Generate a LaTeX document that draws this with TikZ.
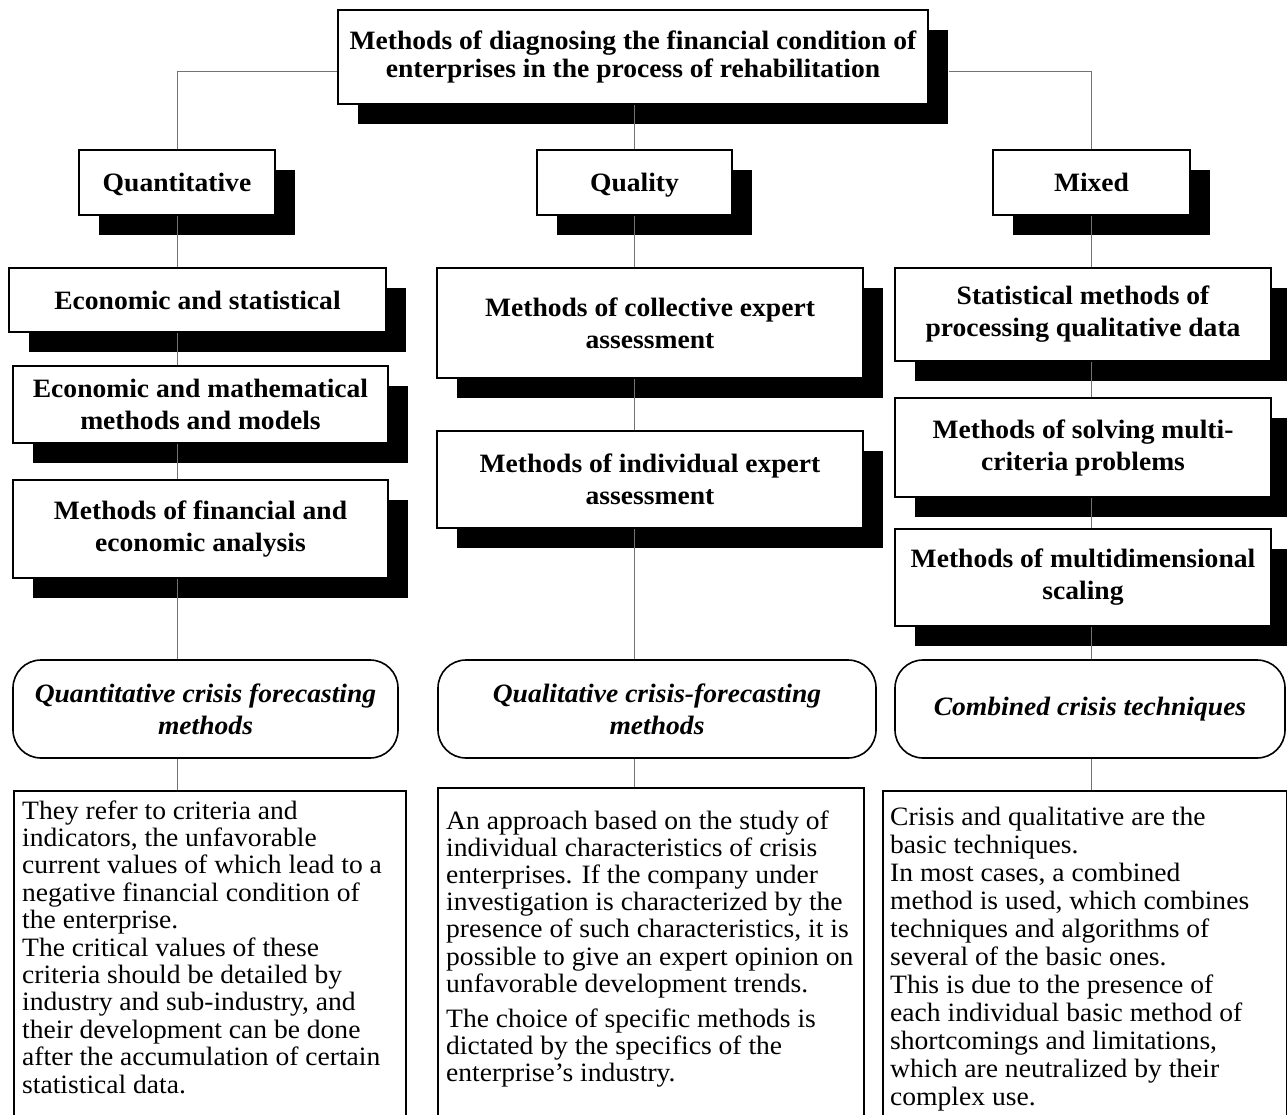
\documentclass[tikz,border=0pt]{standalone}
\usepackage{fontspec}
\setmainfont{Liberation Serif}[FakeStretch=1.04]
\usetikzlibrary{shadows,calc}
\begin{document}
\begin{tikzpicture}[x=1pt,y=-1pt,
  hb/.style={draw, line width=1.6pt, fill=white, align=center, inner sep=0pt,
     font=\bfseries\fontsize{26.5}{32}\selectfont,
     drop shadow={shadow xshift=20pt, shadow yshift=-20pt, fill=black, opacity=1}},
  ov/.style={draw, line width=1.6pt, fill=white, rounded corners=28pt, align=center,
     inner sep=0pt, font=\bfseries\itshape\fontsize{26.5}{32}\selectfont},
  tb/.style={draw, line width=1.6pt, fill=white, inner sep=0pt},
  bt/.style={anchor=base west, inner sep=0pt, font=\fontsize{26.5}{27}\selectfont},
  con/.style={draw=black!55, line width=1pt}]
\useasboundingbox[fill=white] (0,0) rectangle (1287,1115);

% top
\node[hb, minimum width=590pt, minimum height=94pt, font=\bfseries\fontsize{26.5}{28.5}\selectfont]
  (top) at (633,57) {Methods of diagnosing the financial condition of\\enterprises in the process of rehabilitation};

% level 2
\node[hb, minimum width=196pt, minimum height=65pt, text height=21pt, text depth=3pt] (quant) at (177,182.5) {Quantitative};
\node[hb, minimum width=195pt, minimum height=65pt, text height=21pt, text depth=3pt] (qual) at (634.5,182.5) {Quality};
\node[hb, minimum width=197pt, minimum height=65pt, text height=21pt, text depth=3pt] (mixed) at (1091.5,182.5) {Mixed};

% left column
\node[hb, minimum width=377pt, minimum height=64pt] (es) at (197.5,300) {Economic and statistical};
\node[hb, minimum width=375pt, minimum height=77pt] (em) at (200.5,404.5) {Economic and mathematical\\methods and models};
\node[hb, minimum width=375pt, minimum height=98pt] (fa) at (200.5,529) {Methods of financial and\\economic analysis};

% middle column
\node[hb, minimum width=426pt, minimum height=110pt] (coll) at (650,323) {Methods of collective expert\\assessment};
\node[hb, minimum width=426pt, minimum height=97pt] (indiv) at (650,479.5) {Methods of individual expert\\assessment};

% right column
\node[hb, minimum width=376pt, minimum height=93pt] (sm) at (1083,314.5) {Statistical methods of\\processing qualitative data};
\node[hb, minimum width=376pt, minimum height=99pt] (sv) at (1083,447.5) {Methods of solving multi-\\criteria problems};
\node[hb, minimum width=376pt, minimum height=97pt] (md) at (1083,577.5) {Methods of multidimensional\\scaling};

% ovals
\node[ov, minimum width=385pt, minimum height=98pt] (ov1) at (205.5,709) {Quantitative crisis forecasting\\methods};
\node[ov, minimum width=438pt, minimum height=98pt] (ov2) at (657,709) {Qualitative crisis-forecasting\\methods};
\node[ov, minimum width=390pt, minimum height=98pt] (ov3) at (1090,709) {Combined crisis techniques};

% text boxes
\node[tb, minimum width=392pt, minimum height=345pt, anchor=north west] (t1) at (13,790) {};
\node[tb, minimum width=426pt, minimum height=348pt, anchor=north west] (t2) at (437,787) {};
\node[tb, minimum width=404pt, minimum height=345pt, anchor=north west] (t3) at (882,790) {};

\node[bt] (t1txt) at (22,819) {\parbox[t]{390pt}{\raggedright\fontsize{26.5}{27.4}\selectfont
They refer to criteria and\\
indicators, the unfavorable\\
current values of which lead to a\\
negative financial condition of\\
the enterprise.\\
The critical values of these\\
criteria should be detailed by\\
industry and sub-industry, and\\
their development can be done\\
after the accumulation of certain\\
statistical data.}};

\node[bt] (t2txt) at (446,829) {\parbox[t]{420pt}{\raggedright\fontsize{26.5}{27.2}\selectfont
An approach based on the study of\\
individual characteristics of crisis\\
enterprises. If the company under\\
investigation is characterized by the\\
presence of such characteristics, it is\\
possible to give an expert opinion on\\
unfavorable development trends.\\[8pt]
The choice of specific methods is\\
dictated by the specifics of the\\
enterprise's industry.}};

\node[bt] (t3txt) at (890,825) {\parbox[t]{400pt}{\raggedright\fontsize{26.5}{28}\selectfont
Crisis and qualitative are the\\
basic techniques.\\
In most cases, a combined\\
method is used, which combines\\
techniques and algorithms of\\
several of the basic ones.\\
This is due to the presence of\\
each individual basic method of\\
shortcomings and limitations,\\
which are neutralized by their\\
complex use.}};

% connectors
\coordinate (lv) at (0,72);
\draw[con] (top.west |- lv) -| (quant.north);
\draw[con] ($(top.east |- lv)+(20,0)$) -| (mixed.north);
\draw[con] (qual.north |- top.south) -- (qual.north);

\draw[con] (quant.south) -- (quant.south |- es.north);
\draw[con] (quant.south |- es.south) -- (quant.south |- em.north);
\draw[con] (quant.south |- em.south) -- (quant.south |- fa.north);
\draw[con] (quant.south |- fa.south) -- (quant.south |- ov1.north);
\draw[con] (quant.south |- ov1.south) -- (quant.south |- t1.north);

\draw[con] (qual.south) -- (qual.south |- coll.north);
\draw[con] (qual.south |- coll.south) -- (qual.south |- indiv.north);
\draw[con] (qual.south |- indiv.south) -- (qual.south |- ov2.north);
\draw[con] (qual.south |- ov2.south) -- (qual.south |- t2.north);

\draw[con] (mixed.south) -- (mixed.south |- sm.north);
\draw[con] (mixed.south |- sm.south) -- (mixed.south |- sv.north);
\draw[con] (mixed.south |- sv.south) -- (mixed.south |- md.north);
\draw[con] (mixed.south |- md.south) -- (mixed.south |- ov3.north);
\draw[con] (mixed.south |- ov3.south) -- (mixed.south |- t3.north);
\end{tikzpicture}
\end{document}
